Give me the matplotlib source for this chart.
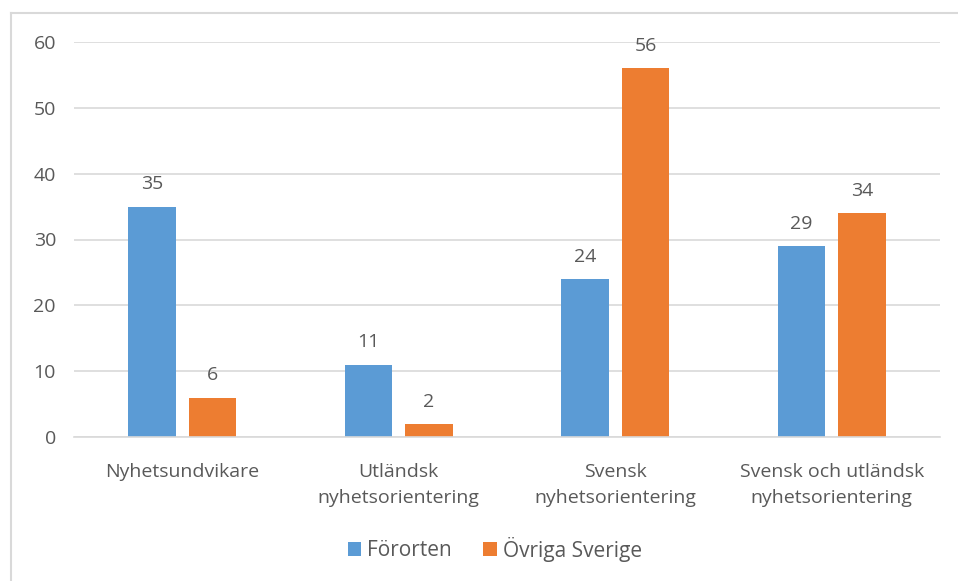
import matplotlib.pyplot as plt
import numpy as np
from matplotlib.lines import Line2D

categories = ['Nyhetsundvikare', 'Utländsk\nnyhetsorientering',
              'Svensk\nnyhetsorientering', 'Svensk och utländsk\nnyhetsorientering']
fororten = [35, 11, 24, 29]
ovriga = [6, 2, 56, 34]
series_names = ['Förorten', 'Övriga Sverige']
yticks = [0, 10, 20, 30, 40, 50, 60]

BLUE = '#5B9BD5'
ORANGE = '#ED7D31'
TEXT = '#595959'
GRID = '#D9D9D9'
FS = 14

plt.rcParams['font.family'] = ['Open Sans', 'DejaVu Sans']

W, H = 958, 581
fig = plt.figure(figsize=(W / 100, H / 100), dpi=100)
# axes in pixel terms: left 74, right 940, y=0 at 437, y=60 at 42
ax = fig.add_axes([74 / W, 1 - 437 / H, (940 - 74) / W, (437 - 42) / H])

x = np.arange(len(categories))
bw = 0.22
gap = 0.06
off = (bw + gap) / 2
b1 = ax.bar(x - off, fororten, bw, color=BLUE, label=series_names[0])
b2 = ax.bar(x + off, ovriga, bw, color=ORANGE, label=series_names[1])

for bars, vals in ((b1, fororten), (b2, ovriga)):
    for r, v in zip(bars, vals):
        ax.text(r.get_x() + r.get_width() / 2, v + 2.0, str(v),
                ha='center', va='bottom', fontsize=FS, color=TEXT)

ax.set_xlim(-0.5, len(categories) - 0.5)
ax.set_ylim(0, 60)
ax.set_yticks(yticks)
ax.yaxis.grid(True, color=GRID, linewidth=1.2)
ax.set_axisbelow(True)
for s in ['top', 'right', 'left']:
    ax.spines[s].set_visible(False)
ax.spines['bottom'].set_color(GRID)
ax.spines['bottom'].set_linewidth(1.2)
ax.tick_params(axis='both', length=0, labelsize=FS, colors=TEXT)
ax.tick_params(axis='y', pad=13)
ax.tick_params(axis='x', pad=19)
ax.set_xticks(x)
ax.set_xticklabels(categories, linespacing=1.55)

leg = fig.legend(loc='center', bbox_to_anchor=(495 / W, 1 - 549 / H), ncol=2,
                 frameon=False, fontsize=15, handlelength=0.65, handleheight=0.65,
                 handletextpad=0.3, columnspacing=1.5)
for t in leg.get_texts():
    t.set_color(TEXT)

# outer chart border (left and top)
fig.add_artist(Line2D([11 / W, 11 / W], [0, 1 - 13 / H], color=GRID, linewidth=1.5))
fig.add_artist(Line2D([11 / W, 1], [1 - 13 / H, 1 - 13 / H], color=GRID, linewidth=1.5))

fig.savefig('out.png', dpi=100)
